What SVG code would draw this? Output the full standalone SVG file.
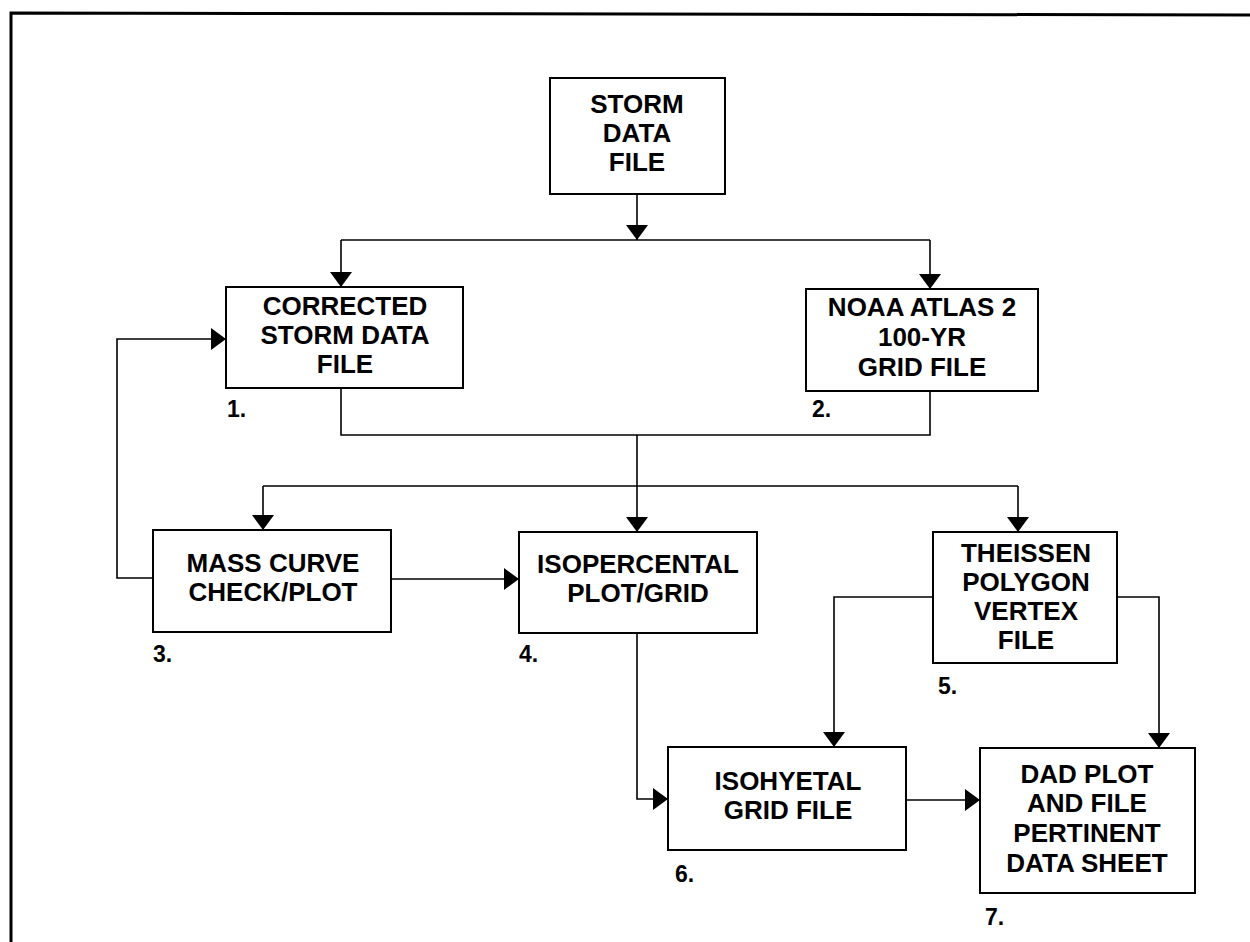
<svg xmlns="http://www.w3.org/2000/svg" width="1250" height="942" viewBox="0 0 1250 942">
<style>
.box{fill:#fff;stroke:#000;stroke-width:2}
.t{font-family:"Liberation Sans",Arial,sans-serif;font-weight:bold;font-size:26px;text-anchor:middle;fill:#000}
.n{font-family:"Liberation Sans",Arial,sans-serif;font-weight:bold;font-size:23px;fill:#000}
.c{fill:none;stroke:#000;stroke-width:1.6}
</style>
<defs>
<marker id="ah" markerUnits="userSpaceOnUse" markerWidth="16" markerHeight="22" refX="15" refY="11" orient="auto" viewBox="0 0 16 22">
<path d="M0,0 L15,11 L0,22 z" fill="#000"/>
</marker>
</defs>
<rect width="1250" height="942" fill="#fff"/>
<g id="border">
<path d="M11,942 L11,13 L1250,15" fill="none" stroke="#000" stroke-width="3"/>
</g>
<g id="connectors">
<path class="c" d="M637,194 L637,240" marker-end="url(#ah)"/>
<path class="c" d="M341,240 L930,240"/>
<path class="c" d="M341,240 L341,287" marker-end="url(#ah)"/>
<path class="c" d="M930,240 L930,289" marker-end="url(#ah)"/>
<path class="c" d="M341,388 L341,435 L930,435 L930,391"/>
<path class="c" d="M637,435 L637,532" marker-end="url(#ah)"/>
<path class="c" d="M263,486 L1018,486"/>
<path class="c" d="M263,486 L263,530" marker-end="url(#ah)"/>
<path class="c" d="M1018,486 L1018,532" marker-end="url(#ah)"/>
<path class="c" d="M391,579 L519,579" marker-end="url(#ah)"/>
<path class="c" d="M153,578 L117,578 L117,339 L226,339" marker-end="url(#ah)"/>
<path class="c" d="M637,633 L637,799 L668,799" marker-end="url(#ah)"/>
<path class="c" d="M933,597 L834,597 L834,747" marker-end="url(#ah)"/>
<path class="c" d="M1117,597 L1159,597 L1159,748" marker-end="url(#ah)"/>
<path class="c" d="M906,800 L980,800" marker-end="url(#ah)"/>
</g>
<g id="storm">
<rect class="box" x="550" y="78" width="175" height="116"/>
<text class="t" x="637" y="113">STORM</text>
<text class="t" x="637" y="142">DATA</text>
<text class="t" x="637" y="171">FILE</text>
</g>
<g id="corrected">
<rect class="box" x="226" y="287" width="237" height="101"/>
<text class="t" x="345" y="315">CORRECTED</text>
<text class="t" x="345" y="344">STORM DATA</text>
<text class="t" x="345" y="373">FILE</text>
<text class="n" x="227" y="417">1.</text>
</g>
<g id="noaa">
<rect class="box" x="806" y="289" width="232" height="102"/>
<text class="t" x="922" y="316">NOAA ATLAS 2</text>
<text class="t" x="922" y="346">100-YR</text>
<text class="t" x="922" y="376">GRID FILE</text>
<text class="n" x="812" y="417">2.</text>
</g>
<g id="mass">
<rect class="box" x="153" y="530" width="238" height="102"/>
<text class="t" x="273" y="572">MASS CURVE</text>
<text class="t" x="273" y="601">CHECK/PLOT</text>
<text class="n" x="153" y="662">3.</text>
</g>
<g id="isopercental">
<rect class="box" x="519" y="532" width="238" height="101"/>
<text class="t" x="638" y="573">ISOPERCENTAL</text>
<text class="t" x="638" y="602">PLOT/GRID</text>
<text class="n" x="519" y="662">4.</text>
</g>
<g id="theissen">
<rect class="box" x="933" y="532" width="184" height="131"/>
<text class="t" x="1026" y="562">THEISSEN</text>
<text class="t" x="1026" y="591">POLYGON</text>
<text class="t" x="1026" y="620">VERTEX</text>
<text class="t" x="1026" y="649">FILE</text>
<text class="n" x="938" y="694">5.</text>
</g>
<g id="isohyetal">
<rect class="box" x="668" y="747" width="238" height="103"/>
<text class="t" x="788" y="790">ISOHYETAL</text>
<text class="t" x="788" y="819">GRID FILE</text>
<text class="n" x="675" y="882">6.</text>
</g>
<g id="dad">
<rect class="box" x="980" y="748" width="215" height="145"/>
<text class="t" x="1087" y="783">DAD PLOT</text>
<text class="t" x="1087" y="812">AND FILE</text>
<text class="t" x="1087" y="842">PERTINENT</text>
<text class="t" x="1087" y="872">DATA SHEET</text>
<text class="n" x="985" y="925">7.</text>
</g>
</svg>
